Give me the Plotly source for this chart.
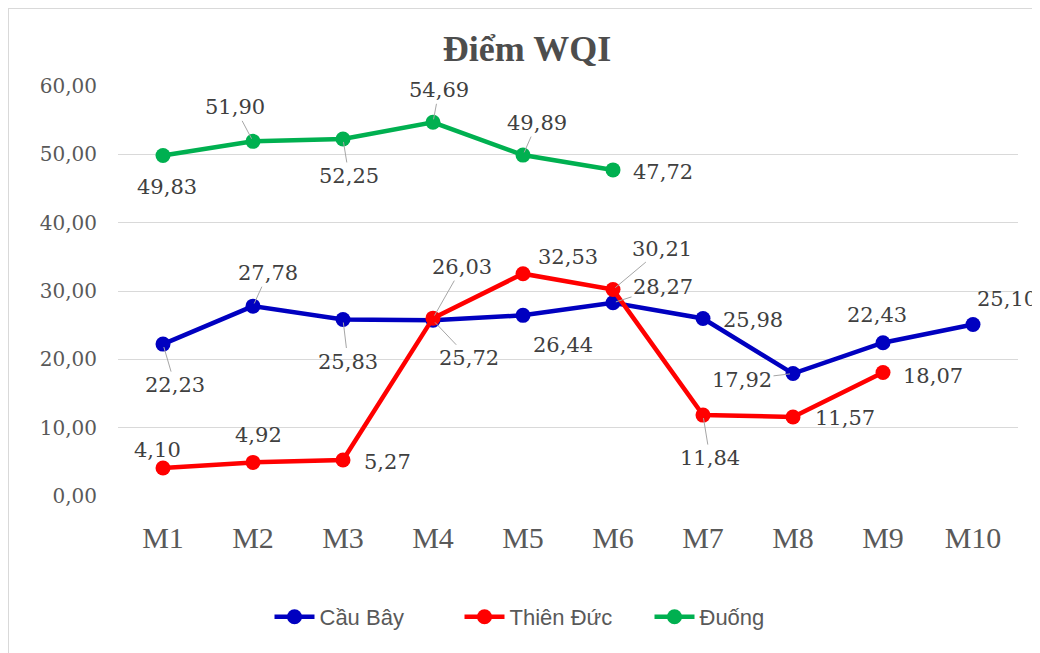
import plotly.graph_objects as go

categories = ["M1", "M2", "M3", "M4", "M5", "M6", "M7", "M8", "M9", "M10"]
cau_bay = [22.23, 27.78, 25.83, 25.72, 26.44, 28.27, 25.98, 17.92, 22.43, 25.10]
thien_duc = [4.10, 4.92, 5.27, 26.03, 32.53, 30.21, 11.84, 11.57, 18.07]
duong = [49.83, 51.90, 52.25, 54.69, 49.89, 47.72]
y_ticks = [0, 10, 20, 30, 40, 50, 60]

series = [
    ("Cầu Bây", cau_bay, "#0000C0"),
    ("Thiên Đức", thien_duc, "#FF0000"),
    ("Đuống", duong, "#00B050"),
]

# label offsets in pixels (dx, dy) and whether a leader line is shown
label_style = {
    "Cầu Bây": [(12, 41, True), (15, -33, True), (5, 42, True), (36, 38, True), (40, 30, False),
                (50, -16, True), (50, 2, False), (-51, 6, True), (-6, -28, False), (34, -25, False)],
    "Thiên Đức": [(-6, -18, False), (5, -27, False), (44, 2, False), (29, -51, True), (45, -17, False),
                  (49, -41, True), (7, 43, True), (52, 1, False), (50, 3, False)],
    "Đuống": [(4, 31, False), (-18, -34, True), (6, 37, True), (6, -32, True), (14, -32, True),
              (50, 2, False)],
}

def fmt(v):
    return f"{v:.2f}".replace(".", ",")

W, H = 1032, 645
ML, MR, MT, MB = 110, 22, 78, 157
PW, PH = W - ML - MR, H - MT - MB

fig = go.Figure()
annotations = []
for name, vals, color in series:
    fig.add_trace(go.Scatter(
        x=categories[:len(vals)], y=vals, name=name, mode="lines+markers",
        line=dict(color=color, width=4.5),
        marker=dict(color=color, size=15),
    ))
    for i, v in enumerate(vals):
        dx, dy, lead = label_style[name][i]
        annotations.append(dict(
            x=categories[i], y=v, xref="x", yref="y", text=fmt(v),
            showarrow=True, ax=dx, ay=dy, arrowhead=0, arrowwidth=1,
            arrowcolor="#A6A6A6" if lead else "rgba(0,0,0,0)",
            standoff=3,
            font=dict(family="DejaVu Serif", size=21, color="#404040"),
        ))

fig.update_layout(
    width=W, height=H,
    margin=dict(l=ML, r=MR, t=MT, b=MB),
    paper_bgcolor="white", plot_bgcolor="white",
    title=dict(text="<b>Điểm WQI</b>", x=519 / W, xref="container", y=1 - 40 / H,
               yref="container", xanchor="center", yanchor="middle",
               font=dict(family="Liberation Serif", size=36, color="#4D4D4D")),
    xaxis=dict(type="category", categoryorder="array", categoryarray=categories,
               range=[-0.5, 9.5], showgrid=False, showline=False, zeroline=False,
               ticks="", ticklabelstandoff=21,
               tickfont=dict(family="Liberation Serif", size=30, color="#595959")),
    yaxis=dict(range=[0, 60], tickvals=y_ticks, ticktext=[fmt(t) for t in y_ticks],
               showgrid=True, gridcolor="#D9D9D9", gridwidth=1.3, zeroline=False,
               showline=False, ticks="", ticklabelstandoff=20,
               tickfont=dict(family="DejaVu Serif", size=20, color="#595959")),
    legend=dict(orientation="h", x=0.485, xanchor="center", y=-0.295, yanchor="middle",
                font=dict(family="Liberation Sans Narrow, Liberation Sans", size=22, color="#595959"),
                itemwidth=40, tracegroupgap=0, entrywidth=135, entrywidthmode="pixels"),
    annotations=annotations,
    shapes=[dict(type="rect", xref="paper", yref="paper",
                 x0=-ML / PW, x1=(W + 40 - ML) / PW,
                 y0=-(H + 40 - MT - PH) / PH, y1=(MT + PH) / PH,
                 line=dict(color="#D9D9D9", width=2), fillcolor="rgba(0,0,0,0)", layer="below")],
    showlegend=True,
)

fig.write_html("out.html")
